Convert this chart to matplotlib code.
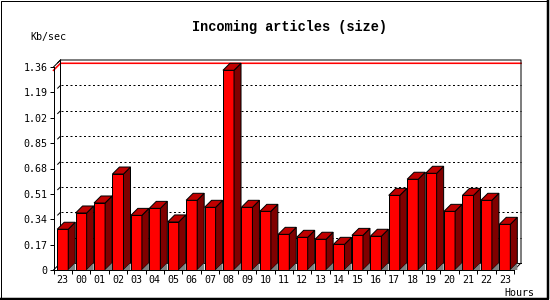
import matplotlib.pyplot as plt
from matplotlib.patches import Polygon
from matplotlib.lines import Line2D

# data
hours = ['23', '00', '01', '02', '03', '04', '05', '06', '07', '08', '09', '10',
         '11', '12', '13', '14', '15', '16', '17', '18', '19', '20', '21', '22', '23']
kb_sec = [0.273, 0.382, 0.449, 0.643, 0.366, 0.413, 0.322, 0.467, 0.420, 1.338,
          0.420, 0.393, 0.239, 0.219, 0.206, 0.172, 0.232, 0.226, 0.500, 0.608,
          0.648, 0.393, 0.500, 0.467, 0.306]
y_ticks = [0, 0.17, 0.34, 0.51, 0.68, 0.85, 1.02, 1.19, 1.36]
y_labels = ['0', '0.17', '0.34', '0.51', '0.68', '0.85', '1.02', '1.19', '1.36']

plt.rcParams['lines.scale_dashes'] = False
W, H = 550, 300
PX = 72 / 100  # one pixel in points
small = dict(family='DejaVu Sans Mono', size=7.2)

fig = plt.figure(figsize=(W / 100, H / 100), dpi=100)
# front face of the 3d box: x 53.5..514 px, y 270..67 px
x0, x1, yb, yt = 53.5, 514, 270, 67
ax = fig.add_axes([x0 / W, (H - yb) / H, (x1 - x0) / W, (yb - yt) / H])
n = len(hours)
ymax = y_ticks[-1]
ax.set_xlim(0, n)
ax.set_ylim(0, ymax)
dx = 7 / ((x1 - x0) / n)
dy = 7 * ymax / (yb - yt)

lw = PX
# back plane grid
for y in y_ticks[1:-1]:
    ax.plot([dx, n + dx], [y + dy, y + dy], color='black', lw=lw,
            dashes=(2 * PX, 2.5 * PX), clip_on=False, zorder=1)
for y in y_ticks:
    ax.plot([dx * 0.6, dx], [y + dy * 0.6, y + dy], color='black', lw=lw,
            clip_on=False, zorder=1)

# max line in red
vmax = max(kb_sec)
ax.plot([0, dx, n + dx], [vmax, vmax + dy, vmax + dy], color='#ff0000',
        lw=1.6 * PX, clip_on=False, zorder=1.2)

# back frame
ax.plot([dx, dx, n + dx, n + dx, n], [dy, ymax + dy, ymax + dy, dy, 0],
        color='black', lw=lw, clip_on=False, zorder=1.3)
ax.plot([dx, n + dx], [dy, dy], color='black', lw=lw, clip_on=False, zorder=1.3)
ax.plot([0, dx], [ymax, ymax + dy], color='black', lw=lw, clip_on=False, zorder=1.3)
ax.plot([0, dx], [0, dy], color='black', lw=lw, clip_on=False, zorder=1.3)

# bars
bw = 0.6
xs = [i + 0.5 for i in range(n)]
ax.bar(xs, kb_sec, width=bw, color='#ff0000', edgecolor='black', linewidth=lw,
       zorder=3)
for x, v in zip(xs, kb_sec):
    xl, xr = x - bw / 2, x + bw / 2
    top = Polygon([(xl, v), (xl + dx, v + dy), (xr + dx, v + dy), (xr, v)],
                  closed=True, facecolor='#c00000', edgecolor='black', lw=lw,
                  clip_on=False, zorder=3)
    side = Polygon([(xr, 0), (xr + dx, dy), (xr + dx, v + dy), (xr, v)],
                   closed=True, facecolor='#800000', edgecolor='black', lw=lw,
                   clip_on=False, zorder=3)
    shade = Polygon([(xr, 0), (xr + dx, dy), (xr + dx, 0)], closed=True,
                    facecolor='#808080', edgecolor='none', clip_on=False, zorder=3.1)
    ax.add_patch(side)
    ax.add_patch(top)
    ax.add_patch(shade)

# axes
for s in ['top', 'right']:
    ax.spines[s].set_visible(False)
for s in ['left', 'bottom']:
    ax.spines[s].set_linewidth(lw)
    ax.spines[s].set_zorder(4)
ax.patch.set_visible(False)
ax.set_yticks(y_ticks)
ax.set_yticklabels(y_labels, **small)
ax.tick_params(axis='y', direction='out', length=4 * PX, width=lw, pad=2 * PX)
ax.set_xticks(range(n + 1))
ax.set_xticklabels([])
ax.tick_params(axis='x', which='major', direction='out', length=4 * PX, width=lw)
ax.set_xticks(xs, minor=True)
ax.set_xticklabels(hours, minor=True, **small)
ax.tick_params(axis='x', which='minor', length=0, pad=5 * PX)

fig.text(290 / W, 1 - 26.5 / H, 'Incoming articles (size)', ha='center',
         va='center', family='Liberation Mono', weight='bold', size=9.8)
fig.text(30 / W, 1 - 37 / H, 'Kb/sec', ha='left', va='center', **small)
fig.text(534 / W, 1 - 292.5 / H, 'Hours', ha='right', va='center', **small)

# outer frame with thicker right/bottom edge
fig.add_artist(Line2D([0.5 / W, 0.5 / W, 547.5 / W], [0, 1 - 0.5 / H, 1 - 0.5 / H],
                      color='black', lw=lw, transform=fig.transFigure))
fig.add_artist(Line2D([0, 548 / W, 548 / W], [1 - 298.8 / H, 1 - 298.8 / H, 1],
                      color='black', lw=2.5 * PX, transform=fig.transFigure))

fig.savefig('out.png', dpi=100)
